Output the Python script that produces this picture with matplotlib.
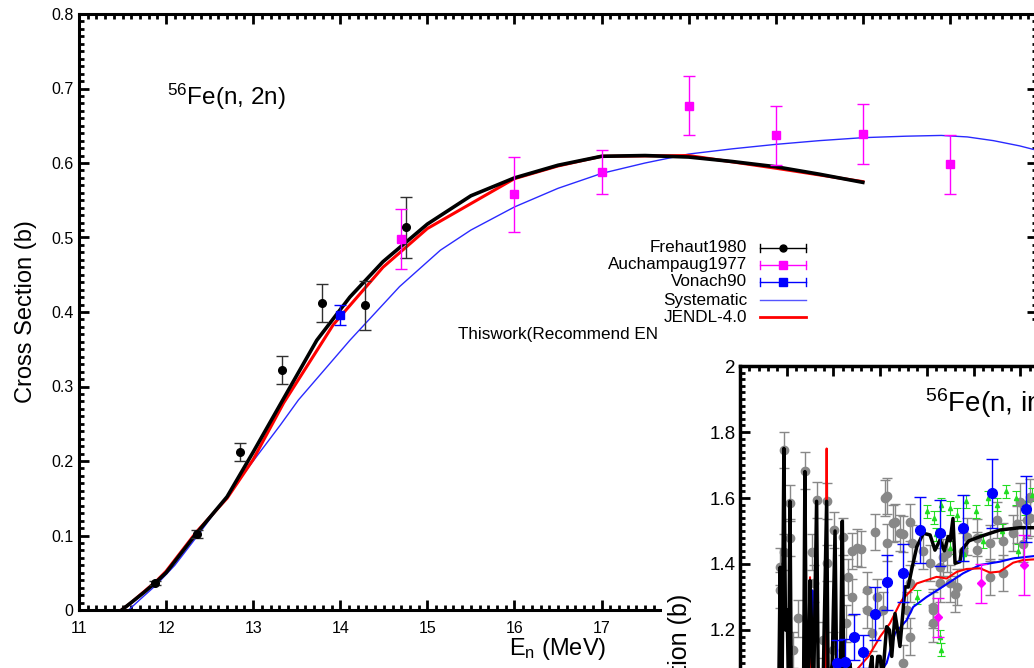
import matplotlib
matplotlib.use("Agg")
import matplotlib.pyplot as plt
from matplotlib.lines import Line2D
from matplotlib.patches import Rectangle
from matplotlib.ticker import MultipleLocator, FuncFormatter

plt.rcParams['font.family'] = ['Liberation Sans', 'DejaVu Sans']
plt.rcParams['mathtext.default'] = 'regular'

# ---- main plot: 56Fe(n,2n) ----
fre_x = [11.87, 12.35, 12.85, 13.33, 13.79, 14.28, 14.75]
fre_y = [0.036, 0.102, 0.212, 0.322, 0.412, 0.409, 0.514]
fre_err = [0.003, 0.005, 0.012, 0.019, 0.025, 0.033, 0.041]

auch_x = [14.7, 16, 17, 18, 19, 20, 21]
auch_y = [0.498, 0.558, 0.588, 0.677, 0.637, 0.639, 0.598]
auch_err = [0.04, 0.05, 0.03, 0.04, 0.04, 0.04, 0.04]

von_x = [14.0]
von_y = [0.396]
von_err = [0.014]

this_x = [11.49, 11.6, 11.75, 11.89, 12.0, 12.35, 12.7, 13.0, 13.35, 13.73, 14.11, 14.49,
          15.0, 15.5, 16.0, 16.5, 17.0, 17.5, 18.0, 18.5, 19.0, 19.5, 20.0]
this_y = [0.0, 0.01, 0.024, 0.038, 0.05, 0.103, 0.152, 0.212, 0.284, 0.362, 0.42, 0.4675,
          0.518, 0.556, 0.58, 0.597, 0.609, 0.61, 0.608, 0.602, 0.595, 0.585, 0.574]

jendl_x = [11.49, 11.6, 11.75, 11.89, 12.0, 12.35, 12.7, 13.0, 13.35, 13.92, 14.49, 15.0,
           16.0, 16.5, 17.0, 18.0, 19.0, 20.0]
jendl_y = [0.0, 0.01, 0.025, 0.039, 0.052, 0.105, 0.15, 0.202, 0.278, 0.383, 0.46, 0.512,
           0.579, 0.596, 0.609, 0.61, 0.593, 0.575]

sys_x = [11.57, 11.7, 11.89, 12.1, 12.35, 12.7, 13.0, 13.31, 13.52, 14.11, 14.68, 15.15,
         15.5, 16.0, 16.5, 17.0, 17.5, 18.0, 18.5, 19.0, 19.5, 20.0, 20.5, 20.9, 21.2,
         21.5, 21.8, 22.0]
sys_y = [0.0, 0.014, 0.034, 0.06, 0.098, 0.153, 0.2, 0.248, 0.282, 0.362, 0.434, 0.483,
         0.51, 0.541, 0.566, 0.586, 0.6, 0.612, 0.619, 0.625, 0.63, 0.634, 0.636, 0.637,
         0.635, 0.63, 0.623, 0.617]

# ---- inset: 56Fe(n,inl) ----
gray_x = [1.71, 1.71, 1.90, 1.90, 2.14, 2.14, 2.47, 2.78, 3.07, 3.28, 3.17, 3.71, 3.71,
          4.03, 4.43, 4.78, 5.0, 5.17, 4.64, 5.42, 5.78, 5.85, 6.28, 6.28, 6.64, 7.0,
          7.28, 7.28, 7.85, 8.28, 8.57, 9.0, 8.71, 9.56, 10.13, 10.71, 11.28, 11.85,
          12.13, 12.42, 5.64, 7.0, 5.42, 4.81, 4.52, 3.97, 3.54, 2.28, 6.21, 6.57, 6.85,
          7.35, 8.14, 8.57, 9.28, 10.14, 10.71, 11.7, 11.99, 12.42, 8.28, 9.21, 11.28,
          8.28, 7.14, 6.14, 7.28, 8.85, 9.71, 11.0, 12.28]
gray_y = [1.392, 1.321, 1.745, 1.437, 1.585, 1.48, 1.235, 1.683, 1.437, 1.595, 1.341,
          1.59, 1.402, 1.503, 1.483, 1.44, 1.45, 1.445, 1.361, 1.321, 1.497, 1.30, 1.606,
          1.465, 1.526, 1.49, 1.526, 1.341, 1.44, 1.27, 1.341, 1.341, 1.42, 1.44, 1.48,
          1.361, 1.47, 1.52, 1.46, 1.54, 1.19, 1.10, 1.26, 1.30, 1.22, 1.14, 1.17, 1.14,
          1.599, 1.523, 1.493, 1.463, 1.402, 1.392, 1.331, 1.443, 1.463, 1.493, 1.589,
          1.604, 1.22, 1.31, 1.372, 1.26, 1.26, 1.26, 1.18, 1.432, 1.483, 1.533, 1.533]

green_x = [8.0, 8.3, 8.6, 9.0, 9.3, 9.7, 10.1, 10.6, 11.0, 11.4, 11.8, 12.2, 12.5, 8.4,
           9.0, 9.6, 10.4, 11.2, 11.9, 8.57, 8.6, 7.6]
green_y = [1.56, 1.54, 1.58, 1.57, 1.55, 1.59, 1.56, 1.60, 1.58, 1.62, 1.60, 1.57, 1.61,
           1.49, 1.45, 1.43, 1.47, 1.50, 1.44, 1.18, 1.14, 1.30]

ins_blue_x = [4.14, 4.5, 4.88, 5.28, 5.80, 6.31, 6.97, 7.71, 8.57, 9.56, 10.78, 12.26]
ins_blue_y = [1.099, 1.104, 1.178, 1.134, 1.25, 1.344, 1.374, 1.503, 1.493, 1.51, 1.614, 1.568]
ins_blue_err = [0.07, 0.07, 0.07, 0.05, 0.08, 0.083, 0.088, 0.1, 0.1, 0.1, 0.105, 0.1]

ins_mag_x = [8.49, 10.31, 12.16]
ins_mag_y = [1.238, 1.341, 1.397]
ins_mag_err = [0.06, 0.06, 0.09]

ins_this_x = [1.65, 1.72, 1.8, 1.88, 1.95, 2.02, 2.08, 2.14, 2.2, 2.45, 2.5, 2.72, 2.78,
              2.85, 2.95, 3.0, 3.07, 3.15, 3.28, 3.35, 3.55, 3.71, 3.78, 3.95, 4.07, 4.15,
              4.3, 4.38, 4.45, 4.7, 4.9, 5.1, 5.3, 5.5, 5.65, 5.75, 5.9, 6.0, 6.1, 6.28,
              6.4, 6.5, 6.64, 6.75, 6.85, 7.07, 7.2, 7.35, 7.57, 7.85, 8.14, 8.35, 8.57,
              8.75, 8.92, 9.0, 9.12, 9.21, 9.42, 9.49, 9.8, 10.28, 11.13, 11.99, 13.0, 14.0]
ins_this_y = [0.95, 1.39, 1.0, 1.75, 1.2, 1.26, 1.0, 1.59, 1.0, 1.05, 1.0, 1.0, 1.68, 1.0,
              1.1, 1.35, 1.2, 1.0, 1.59, 1.05, 1.0, 1.59, 1.0, 1.1, 1.5, 1.0, 1.05, 1.53,
              1.0, 1.1, 1.0, 1.08, 1.0, 1.05, 1.12, 1.0, 1.12, 1.12, 1.05, 1.21, 1.2, 1.12,
              1.25, 1.2, 1.15, 1.331, 1.33, 1.382, 1.452, 1.493, 1.488, 1.442, 1.473, 1.44,
              1.483, 1.47, 1.538, 1.402, 1.407, 1.442, 1.47, 1.483, 1.503, 1.51, 1.51, 1.5]

ins_red_x = [1.7, 2.0, 2.5, 2.9, 3.0, 3.05, 3.5, 3.68, 3.71, 3.74, 4.0, 4.5, 5.0, 5.5,
             5.92, 6.0, 6.42, 6.85, 6.99, 7.42, 7.57, 8.42, 8.85, 9.28, 9.56, 9.71, 10.28,
             10.71, 11.13, 11.7, 12.13, 12.59, 14.0]
ins_red_y = [0.95, 1.0, 0.98, 1.0, 1.36, 1.0, 1.0, 1.0, 1.75, 1.0, 1.02, 1.05, 1.08, 1.12,
             1.17, 1.18, 1.22, 1.281, 1.296, 1.326, 1.341, 1.361, 1.356, 1.376, 1.382,
             1.385, 1.387, 1.374, 1.377, 1.404, 1.412, 1.414, 1.42]

ins_sys_x = [1.7, 2.5, 3.05, 3.1, 3.15, 4.0, 5.0, 5.8, 6.0, 6.28, 6.64, 7.14, 7.42, 7.99,
             8.57, 9.56, 10.28, 11.13, 11.7, 12.59, 14.0]
ins_sys_y = [0.95, 0.98, 1.0, 1.32, 1.0, 1.0, 1.02, 1.05, 1.07, 1.10, 1.19, 1.23, 1.27,
             1.30, 1.326, 1.372, 1.397, 1.407, 1.417, 1.424, 1.43]

W, H = 1034, 668


def fx(px):
    return px / W


def fy(py):
    return 1 - py / H


fig = plt.figure(figsize=(10.34, 6.68), dpi=100)

ax = fig.add_axes([fx(79), fy(610), (1037 - 79) / W, (610 - 14) / H])
ax.plot(sys_x, sys_y, color='#2a2aff', lw=1.0, zorder=2)
ax.plot(jendl_x, jendl_y, color='red', lw=2.2, zorder=3)
ax.plot(this_x, this_y, color='black', lw=2.6, zorder=4)
ax.errorbar(fre_x, fre_y, yerr=fre_err, fmt='o', color='black', ms=5.5, capsize=4,
            elinewidth=1, capthick=1, ecolor='#303030', zorder=5)
ax.errorbar(auch_x, auch_y, yerr=auch_err, fmt='s', color='#ff00ff', ms=6, capsize=4,
            elinewidth=1, capthick=1, zorder=5)
ax.errorbar(von_x, von_y, yerr=von_err, fmt='s', color='blue', ms=6, capsize=4,
            elinewidth=1, capthick=1, zorder=6)

ax.set_xlim(11, 22)
ax.set_ylim(0, 0.8)
ax.xaxis.set_major_locator(MultipleLocator(1))
ax.xaxis.set_minor_locator(MultipleLocator(0.1))
# labels past 17 sit under the pasted panel
ax.xaxis.set_major_formatter(FuncFormatter(lambda v, p: '%g' % v if v < 17.5 else ''))
ax.yaxis.set_major_locator(MultipleLocator(0.1))
ax.yaxis.set_minor_locator(MultipleLocator(0.01))
ax.yaxis.set_major_formatter(FuncFormatter(lambda v, p: '%g' % round(v, 2)))
ax.tick_params(which='both', direction='in', top=True, right=True, width=2)
ax.tick_params(which='major', length=7, labelsize=11.5)
ax.tick_params(which='minor', length=3.5)
ax.tick_params(axis='x', pad=8)
ax.tick_params(axis='y', pad=4)
for s in ax.spines.values():
    s.set_linewidth(2.2)
ax.set_xlabel('E$_n$ (MeV)', fontsize=17, va='top')
ax.set_ylabel('Cross Section (b)', fontsize=17)
ax.xaxis.set_label_coords(0.5, -0.044)
ax.yaxis.set_label_coords(-0.044, 0.5)

fig.text(fx(167), fy(105), '$^{56}$Fe(n, 2n)', fontsize=17.5, va='baseline')

# legend drawn by hand, text right aligned with samples on the right
rows = [248, 265, 282, 300, 317]
names = ['Frehaut1980', 'Auchampaug1977', 'Vonach90', 'Systematic', 'JENDL-4.0']
for yy, name in zip(rows, names):
    fig.text(fx(747), fy(yy), name, fontsize=12.3, ha='right', va='center')
styles = [('black', 'o', 5), ('#ff00ff', 's', 6), ('blue', 's', 6)]
for yy, (c, m, ms) in zip(rows[:3], styles):
    fig.add_artist(Line2D([fx(760), fx(806)], [fy(yy), fy(yy)], color=c, lw=1))
    for cx in (760, 806):
        fig.add_artist(Line2D([fx(cx), fx(cx)], [fy(yy - 4), fy(yy + 4)], color=c, lw=1))
    fig.add_artist(Line2D([fx(783)], [fy(yy)], marker=m, color=c, ms=ms, lw=0))
fig.add_artist(Line2D([fx(760), fx(806)], [fy(rows[3]), fy(rows[3])], color='#5555ff', lw=1))
fig.add_artist(Line2D([fx(760), fx(806)], [fy(rows[4]), fy(rows[4])], color='red', lw=2))
fig.text(fx(458), fy(335), 'Thiswork(Recommend EN', fontsize=12.3, ha='left', va='center')

# white block of the pasted second panel, covering the lower right
fig.add_artist(Rectangle((fx(662), 0), 1 - fx(662), fy(326), transform=fig.transFigure,
                         facecolor='white', edgecolor='none', zorder=1))

# ---- inset (partly outside the picture) ----
ax2 = fig.add_axes([fx(740), fy(366 + 660), 467 / W, 660 / H])
ax2.set_zorder(2)
ax2.set_facecolor('white')
ax2.errorbar(gray_x, gray_y, yerr=0.055, fmt='o', color='#888888', ms=6, capsize=3.5,
             elinewidth=1, capthick=1, zorder=2)
ax2.errorbar(green_x, green_y, yerr=0.02, fmt='^', color='#22dd22', ms=3, capsize=3,
             elinewidth=0.8, capthick=0.8, zorder=2)
ax2.plot(ins_sys_x, ins_sys_y, color='blue', lw=1.5, zorder=3)
ax2.plot(ins_red_x, ins_red_y, color='red', lw=1.5, zorder=3)
ax2.plot(ins_this_x, ins_this_y, color='black', lw=2.5, zorder=4)
ax2.errorbar(ins_mag_x, ins_mag_y, yerr=ins_mag_err, fmt='D', color='#ff00ff', ms=4,
             capsize=4, elinewidth=1, capthick=1, zorder=5)
ax2.errorbar(ins_blue_x, ins_blue_y, yerr=ins_blue_err, fmt='o', color='blue', ms=7,
             capsize=4, elinewidth=1, capthick=1, zorder=6)
ax2.set_xlim(0, 20)
ax2.set_ylim(0, 2)
ax2.xaxis.set_major_locator(MultipleLocator(2))
ax2.xaxis.set_minor_locator(MultipleLocator(0.4))
ax2.yaxis.set_major_locator(MultipleLocator(0.2))
ax2.yaxis.set_minor_locator(MultipleLocator(0.02))
ax2.yaxis.set_major_formatter(FuncFormatter(lambda v, p: '%g' % round(v, 2)))
ax2.tick_params(which='both', direction='in', top=True, right=True, width=2,
                labelbottom=False)
ax2.tick_params(which='major', length=7, labelsize=13.5, pad=3)
ax2.tick_params(which='minor', length=3.5)
for s in ax2.spines.values():
    s.set_linewidth(2.5)
fig.text(fx(680), fy(690), 'Cross Section (b)', fontsize=18, rotation=90,
         ha='center', va='center', zorder=3)
fig.text(fx(925), fy(412), '$^{56}$Fe(n, inl)', fontsize=20, va='baseline', zorder=3)

fig.savefig('out.png', dpi=100)
